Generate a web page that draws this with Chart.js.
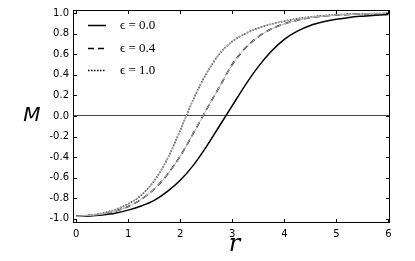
<!DOCTYPE html>
<html>
<head>
<meta charset="utf-8">
<script src="https://cdn.jsdelivr.net/npm/chart.js@4.4.0/dist/chart.umd.min.js"></script>
<style>
  html, body { margin: 0; padding: 0; background: #fff; }
  #wrap { width: 415px; height: 261px; }
</style>
</head>
<body>
<div id="wrap"><canvas id="chart"></canvas></div>
<script>
const rValues = [0, 0.25, 0.5, 0.75, 1, 1.25, 1.5, 1.75, 2, 2.25, 2.5, 2.75, 3,
  3.25, 3.5, 3.75, 4, 4.25, 4.5, 4.75, 5, 5.25, 5.5, 5.75, 6];

// M(r) for each epsilon
const mEps00 = [-0.975, -0.972, -0.962, -0.945, -0.915, -0.875, -0.82, -0.735, -0.625, -0.48, -0.30, -0.10, 0.10,
  0.30, 0.48, 0.63, 0.745, 0.825, 0.88, 0.915, 0.94, 0.958, 0.97, 0.98, 0.987];
const mEps04 = [-0.975, -0.968, -0.955, -0.925, -0.88, -0.81, -0.71, -0.57, -0.39, -0.17, 0.06, 0.28, 0.50,
  0.66, 0.77, 0.845, 0.895, 0.93, 0.955, 0.97, 0.98, 0.987, 0.991, 0.994, 0.996];
const mEps10 = [-0.975, -0.965, -0.945, -0.91, -0.855, -0.77, -0.63, -0.42, -0.14, 0.16, 0.41, 0.60, 0.725,
  0.80, 0.855, 0.893, 0.922, 0.945, 0.962, 0.974, 0.983, 0.989, 0.993, 0.995, 0.997];

const seriesLabels = ["\u03F5 = 0.0", "\u03F5 = 0.4", "\u03F5 = 1.0"];
const seriesDash = [[], [6, 4], [1.5, 1.5]];

const toPoints = (ys) => rValues.map((r, i) => ({ x: r, y: ys[i] }));

// gray thin lines under the dashed/dotted curves (as in the picture)
const underlays = [mEps04, mEps10].map(ys => ({
  data: toPoints(ys),
  borderColor: "#b4b4b4",
  borderWidth: 1,
  pointRadius: 0,
  cubicInterpolationMode: "monotone",
}));

const mainSets = [mEps00, mEps04, mEps10].map((ys, i) => ({
  label: seriesLabels[i],
  data: toPoints(ys),
  borderColor: "#000",
  borderWidth: 1.5,
  borderDash: seriesDash[i],
  pointRadius: 0,
  cubicInterpolationMode: "monotone",
}));

// frame, inward ticks, axis letters and the legend
const framePlugin = {
  id: "frame",
  afterDraw(chart) {
    const { ctx, chartArea: a, scales } = chart;
    ctx.save();
    ctx.strokeStyle = "#000";
    ctx.lineWidth = 1;
    ctx.setLineDash([]);
    ctx.strokeRect(a.left + 0.5, a.top + 0.5, a.right - a.left - 1, a.bottom - a.top - 1);

    const tick = 4;
    ctx.beginPath();
    scales.x.ticks.forEach(t => {
      const px = Math.round(scales.x.getPixelForValue(t.value)) + 0.5;
      ctx.moveTo(px, a.bottom); ctx.lineTo(px, a.bottom - tick);
      ctx.moveTo(px, a.top); ctx.lineTo(px, a.top + tick);
    });
    scales.y.ticks.forEach(t => {
      const py = Math.round(scales.y.getPixelForValue(t.value)) + 0.5;
      ctx.moveTo(a.left, py); ctx.lineTo(a.left + tick, py);
      ctx.moveTo(a.right, py); ctx.lineTo(a.right - tick, py);
    });
    ctx.stroke();

    // axis letters
    ctx.fillStyle = "#000";
    ctx.textAlign = "center";
    ctx.textBaseline = "middle";
    ctx.font = "italic 20px 'DejaVu Sans'";
    ctx.fillText("M", a.left - 41, scales.y.getPixelForValue(0));
    ctx.textBaseline = "alphabetic";
    ctx.font = "italic 24px 'DejaVu Serif'";
    ctx.fillText("r", (a.left + a.right) / 2 + 3, 251);

    // legend
    ctx.font = "13px 'Liberation Serif', 'DejaVu Serif'";
    ctx.textAlign = "left";
    ctx.textBaseline = "middle";
    mainSets.forEach((ds, i) => {
      const y = Math.round(a.top + 15 + i * 22.5) + 0.5;
      ctx.save();
      ctx.lineWidth = ds.borderWidth;
      ctx.setLineDash(ds.borderDash);
      ctx.beginPath();
      ctx.moveTo(a.left + 15, y);
      ctx.lineTo(a.left + 33, y);
      ctx.stroke();
      ctx.restore();
      ctx.fillText(ds.label, a.left + 47, y);
    });
    ctx.restore();
  },
};

new Chart(document.getElementById("chart"), {
  type: "line",
  plugins: [framePlugin],
  data: { datasets: [...underlays, ...mainSets] },
  options: {
    responsive: true,
    maintainAspectRatio: false,
    animation: false,
    layout: { padding: { left: 0, right: 25, top: 10, bottom: 0 } },
    plugins: { legend: { display: false }, tooltip: { enabled: false } },
    scales: {
      x: {
        type: "linear",
        min: -0.06,
        max: 6.03,
        border: { display: false },
        grid: { display: false, drawTicks: false },
        ticks: {
          stepSize: 1,
          includeBounds: false,
          padding: 5,
          color: "#000",
          font: { family: "DejaVu Sans", size: 10 },
          callback: v => String(Math.round(v)),
        },
        afterFit: s => { s.height = 38; },
      },
      y: {
        min: -1.04,
        max: 1.03,
        border: { display: false },
        grid: {
          drawTicks: false,
          color: c => (Math.abs(c.tick.value) < 1e-9 ? "#444" : "rgba(0,0,0,0)"),
          lineWidth: 1,
        },
        ticks: {
          stepSize: 0.2,
          includeBounds: false,
          padding: 4,
          color: "#000",
          font: { family: "DejaVu Sans", size: 10 },
          callback: v => (Math.abs(v) < 1e-9 ? 0 : v).toFixed(1),
        },
        afterFit: s => { s.width = 73; },
      },
    },
  },
});
</script>
</body>
</html>
